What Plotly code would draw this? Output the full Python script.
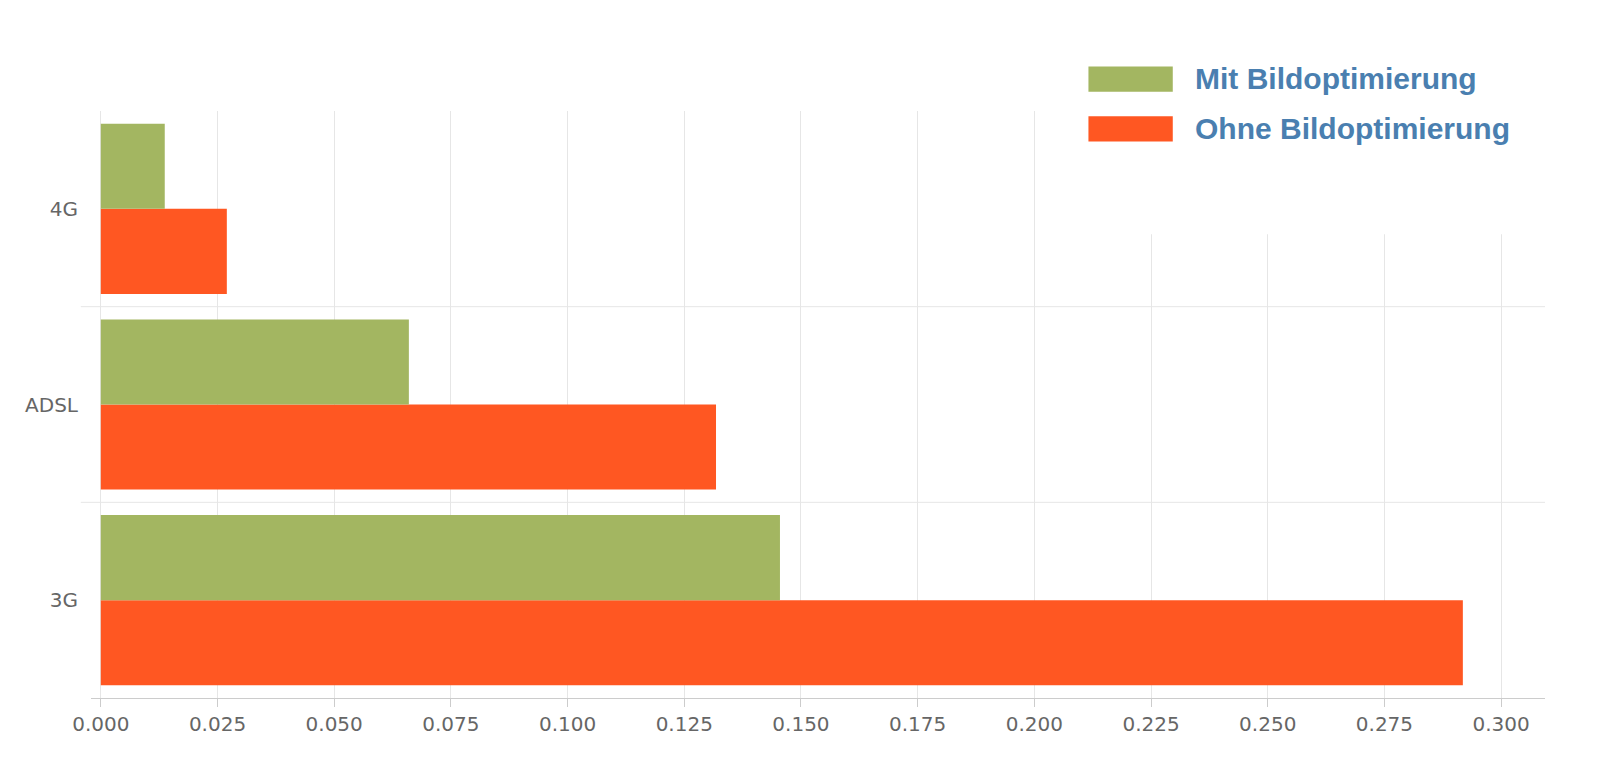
import plotly.graph_objects as go

categories = ["3G", "ADSL", "4G"]
mit = [0.1455, 0.066, 0.0137]
ohne = [0.2918, 0.1318, 0.027]
xticks = [0, 0.025, 0.05, 0.075, 0.1, 0.125, 0.15, 0.175, 0.2, 0.225, 0.25, 0.275, 0.3]
green = "#a3b661"
orange = "#ff5722"
ypos = list(range(len(categories)))

fig = go.Figure()
fig.add_bar(y=ypos, x=ohne, orientation="h", marker=dict(color=orange, line=dict(width=0)), name="Ohne Bildoptimierung")
fig.add_bar(y=ypos, x=mit, orientation="h", marker=dict(color=green, line=dict(width=0)), name="Mit Bildoptimierung")

shapes = []
for b in [0.5, 1.5]:
    shapes.append(dict(type="line", xref="paper", yref="y", x0=-0.007, x1=1, y0=b, y1=b, line=dict(color="#e6e6e6", width=1), layer="below"))
# white block hiding grid behind legend
shapes.append(dict(type="rect", xref="paper", yref="paper", x0=0.7, x1=1.05, y0=0.79, y1=1.05, fillcolor="white", line=dict(width=0), layer="above"))
shapes.append(dict(type="rect", xref="paper", yref="paper", x0=0.686, x1=0.744, y0=1.033, y1=1.076, fillcolor=green, line=dict(width=0), layer="above"))
shapes.append(dict(type="rect", xref="paper", yref="paper", x0=0.686, x1=0.744, y0=0.948, y1=0.991, fillcolor=orange, line=dict(width=0), layer="above"))

annots = [
    dict(text="<b>Mit Bildoptimierung</b>", xref="paper", yref="paper", x=0.758, y=1.055, xanchor="left", yanchor="middle", showarrow=False, font=dict(size=30, color="#4a7fb0", family="Liberation Sans")),
    dict(text="<b>Ohne Bildoptimierung</b>", xref="paper", yref="paper", x=0.758, y=0.97, xanchor="left", yanchor="middle", showarrow=False, font=dict(size=30, color="#4a7fb0", family="Liberation Sans")),
]

fig.update_layout(
    width=1600, height=781, barmode="group", bargap=0.13, bargroupgap=0,
    plot_bgcolor="white", paper_bgcolor="white", showlegend=False,
    margin=dict(l=83, r=63, t=103, b=91),
    font=dict(family="DejaVu Sans", size=20, color="#666666"),
    shapes=shapes, annotations=annots,
    xaxis=dict(range=[-0.0021, 0.3094], tickvals=xticks, tickformat=".3f", showgrid=True, gridcolor="#e6e6e6",
               zeroline=False, showline=True, linecolor="#cccccc", ticks="outside", tickcolor="#cccccc", ticklen=8),
    yaxis=dict(range=[-0.5, 2.5], tickvals=ypos, ticktext=categories, showgrid=False, zeroline=False, ticks="", ticklabelstandoff=12),
)
fig.write_html("out.html")
